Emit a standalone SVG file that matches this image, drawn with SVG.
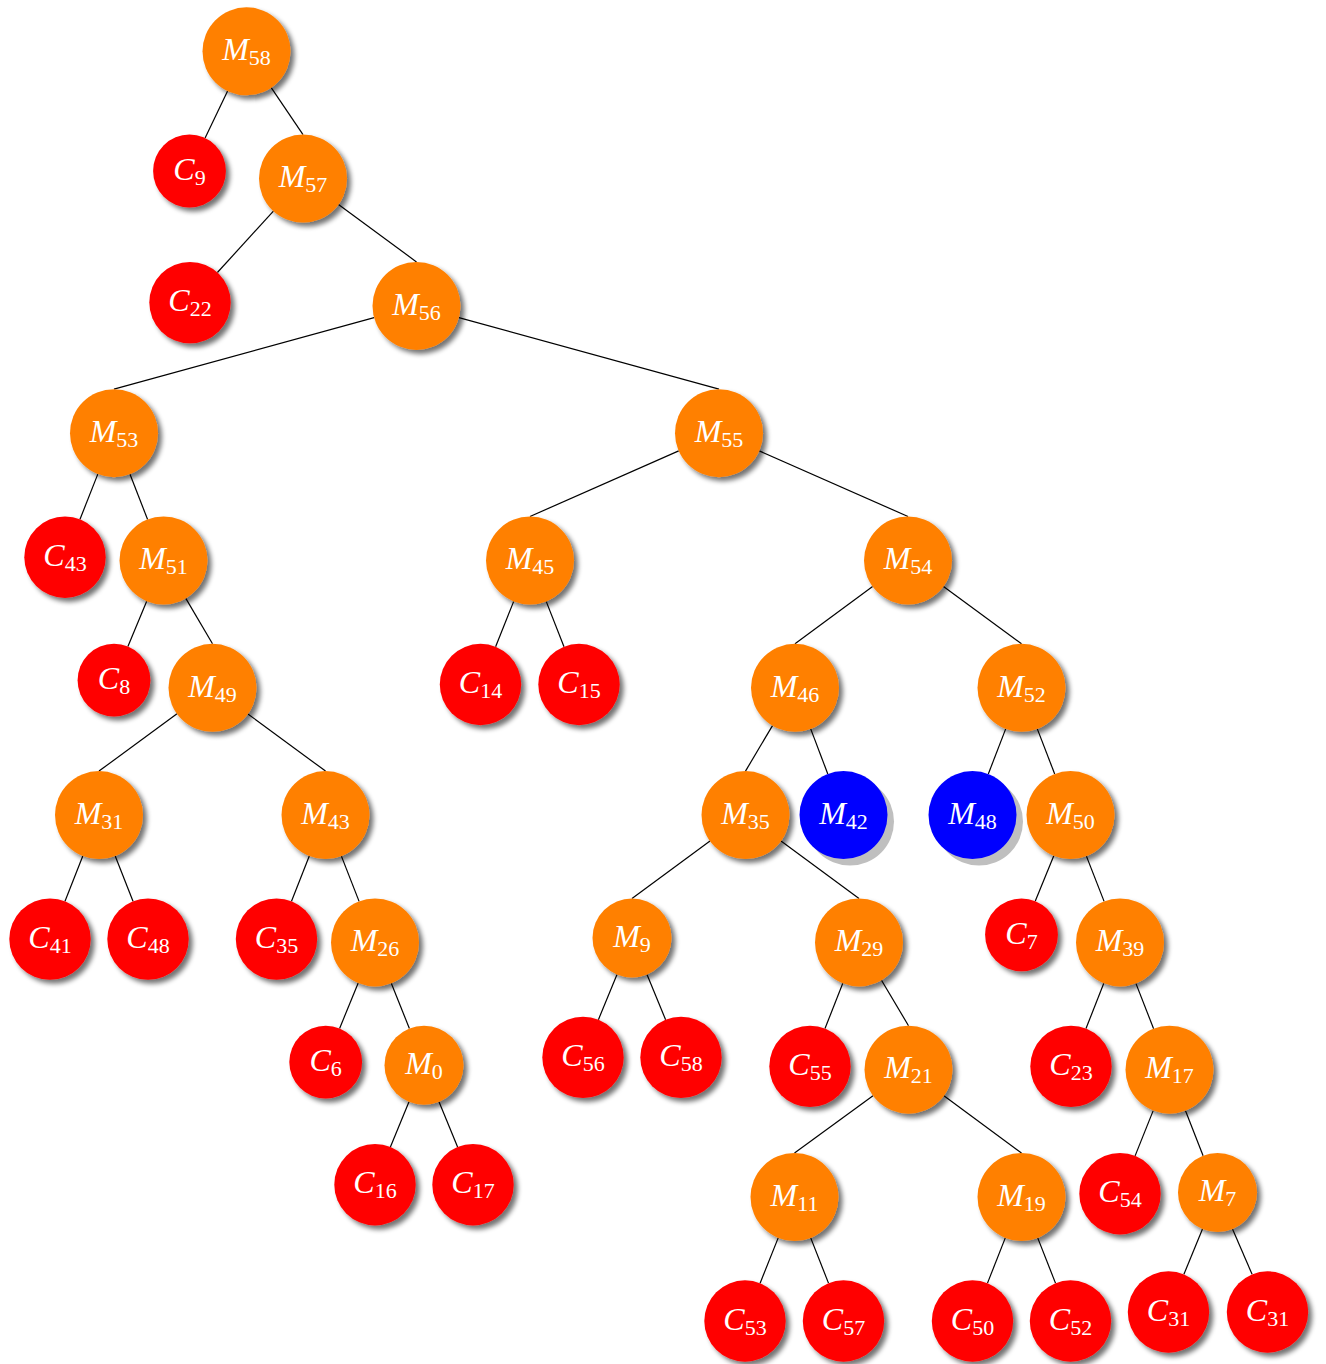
<svg xmlns="http://www.w3.org/2000/svg" width="1326" height="1364" viewBox="0 0 1326 1364">
  <defs>
    <filter id="soft" x="-30%" y="-30%" width="170%" height="170%">
      <feGaussianBlur in="SourceAlpha" stdDeviation="2.4"/>
      <feOffset dx="3.5" dy="3.5"/>
      <feComponentTransfer><feFuncA type="linear" slope="0.55"/></feComponentTransfer>
      <feMerge><feMergeNode/><feMergeNode in="SourceGraphic"/></feMerge>
    </filter>
  </defs>
  <style>
    .m circle { fill: #ff8000; filter: url(#soft); }
    .c circle { fill: #ff0000; filter: url(#soft); }
    .b circle.face { fill: #0000ff; }
    .b circle.shade { fill: #bfbfbf; }
    text { font-family: "Liberation Serif", "DejaVu Serif", serif; fill: #ffffff; text-anchor: middle; }
    .v { font-size: 32px; font-style: italic; }
    .s { font-size: 22px; font-style: normal; }
    #edges line { stroke: #000000; stroke-width: 1.2; }
  </style>
  <rect width="1326" height="1364" fill="#ffffff"/>

  <g id="edges">
    <!-- edges ending at the child's north point -->
    <line x1="271.2" y1="87.7" x2="303" y2="134.6"/>
    <line x1="338.5" y1="204.6" x2="416.5" y2="261.9"/>
    <line x1="374.1" y1="317.6" x2="114" y2="389.2"/>
    <line x1="458.9" y1="317.6" x2="719" y2="389.2"/>
    <line x1="678.7" y1="450.9" x2="530" y2="516.5"/>
    <line x1="759.3" y1="450.9" x2="908" y2="516.5"/>
    <line x1="185.8" y1="598.4" x2="212.5" y2="643.8"/>
    <line x1="872.6" y1="586.6" x2="795" y2="643.8"/>
    <line x1="943.5" y1="586.5" x2="1021.5" y2="643.8"/>
    <line x1="177.0" y1="713.8" x2="99" y2="771.1"/>
    <line x1="247.9" y1="713.9" x2="325.5" y2="771.1"/>
    <line x1="772.5" y1="725.6" x2="745.5" y2="771.1"/>
    <line x1="710.0" y1="841.1" x2="632" y2="898.4"/>
    <line x1="781.0" y1="841.1" x2="859" y2="898.4"/>
    <line x1="881.5" y1="980.2" x2="908.5" y2="1025.7"/>
    <line x1="873.0" y1="1095.7" x2="794.5" y2="1153"/>
    <line x1="943.9" y1="1095.8" x2="1021.5" y2="1153"/>
    <!-- edges aimed at the child's centre, cut at both borders -->
    <line x1="227.6" y1="91.0" x2="205.1" y2="138.1"/>
    <line x1="273.4" y1="211.1" x2="217.4" y2="272.5"/>
    <line x1="97.8" y1="474.1" x2="80.0" y2="519.3"/>
    <line x1="130.0" y1="474.2" x2="147.6" y2="519.5"/>
    <line x1="146.7" y1="601.2" x2="127.9" y2="646.6"/>
    <line x1="513.7" y1="601.4" x2="495.6" y2="646.7"/>
    <line x1="546.2" y1="601.4" x2="564.0" y2="646.7"/>
    <line x1="810.7" y1="728.9" x2="827.8" y2="774.0"/>
    <line x1="1005.7" y1="728.9" x2="988.3" y2="774.0"/>
    <line x1="1037.3" y1="728.9" x2="1054.7" y2="774.0"/>
    <line x1="82.8" y1="856.0" x2="65.0" y2="901.2"/>
    <line x1="115.2" y1="856.0" x2="133.0" y2="901.2"/>
    <line x1="309.3" y1="856.0" x2="291.5" y2="901.2"/>
    <line x1="341.4" y1="856.1" x2="359.1" y2="901.4"/>
    <line x1="1053.8" y1="855.8" x2="1035.3" y2="901.1"/>
    <line x1="1086.4" y1="856.1" x2="1104.1" y2="901.4"/>
    <line x1="358.2" y1="983.1" x2="339.6" y2="1028.4"/>
    <line x1="391.3" y1="983.3" x2="409.4" y2="1028.5"/>
    <line x1="617.0" y1="974.4" x2="598.4" y2="1019.7"/>
    <line x1="647.0" y1="974.4" x2="665.6" y2="1019.7"/>
    <line x1="842.8" y1="983.3" x2="825.0" y2="1028.5"/>
    <line x1="1103.8" y1="983.3" x2="1086.0" y2="1028.5"/>
    <line x1="1135.9" y1="983.4" x2="1153.6" y2="1028.7"/>
    <line x1="409.0" y1="1101.7" x2="390.4" y2="1147.0"/>
    <line x1="439.0" y1="1101.7" x2="457.6" y2="1147.0"/>
    <line x1="1153.2" y1="1110.6" x2="1135.1" y2="1155.9"/>
    <line x1="1185.5" y1="1110.7" x2="1203.1" y2="1155.7"/>
    <line x1="778.2" y1="1237.9" x2="760.1" y2="1283.2"/>
    <line x1="810.7" y1="1237.9" x2="828.5" y2="1283.1"/>
    <line x1="1005.3" y1="1237.9" x2="987.5" y2="1283.1"/>
    <line x1="1037.7" y1="1237.9" x2="1055.5" y2="1283.1"/>
    <line x1="1202.5" y1="1229.0" x2="1183.9" y2="1274.3"/>
    <line x1="1232.5" y1="1229.0" x2="1252.1" y2="1274.3"/>
  </g>

  <!-- level 0-2 -->
  <g id="M58" class="m"><circle cx="246.5" cy="51.3" r="44"/><text x="246.5" y="60"><tspan class="v">M</tspan><tspan class="s" dy="5">58</tspan></text></g>
  <g id="C9" class="c"><circle cx="189.5" cy="171" r="36.4"/><text x="189.5" y="179.7"><tspan class="v">C</tspan><tspan class="s" dy="5">9</tspan></text></g>
  <g id="M57" class="m"><circle cx="303" cy="178.6" r="44"/><text x="303" y="187.3"><tspan class="v">M</tspan><tspan class="s" dy="5">57</tspan></text></g>
  <g id="C22" class="c"><circle cx="190" cy="302.6" r="40.7"/><text x="190" y="311.3"><tspan class="v">C</tspan><tspan class="s" dy="5">22</tspan></text></g>
  <g id="M56" class="m"><circle cx="416.5" cy="305.9" r="44"/><text x="416.5" y="314.6"><tspan class="v">M</tspan><tspan class="s" dy="5">56</tspan></text></g>

  <!-- level 3-4 -->
  <g id="M53" class="m"><circle cx="114" cy="433.2" r="44"/><text x="114" y="441.9"><tspan class="v">M</tspan><tspan class="s" dy="5">53</tspan></text></g>
  <g id="M55" class="m"><circle cx="719" cy="433.2" r="44"/><text x="719" y="441.9"><tspan class="v">M</tspan><tspan class="s" dy="5">55</tspan></text></g>
  <g id="C43" class="c"><circle cx="65" cy="557.2" r="40.7"/><text x="65" y="565.9"><tspan class="v">C</tspan><tspan class="s" dy="5">43</tspan></text></g>
  <g id="M51" class="m"><circle cx="163.5" cy="560.5" r="44"/><text x="163.5" y="569.2"><tspan class="v">M</tspan><tspan class="s" dy="5">51</tspan></text></g>
  <g id="M45" class="m"><circle cx="530" cy="560.5" r="44"/><text x="530" y="569.2"><tspan class="v">M</tspan><tspan class="s" dy="5">45</tspan></text></g>
  <g id="M54" class="m"><circle cx="908" cy="560.5" r="44"/><text x="908" y="569.2"><tspan class="v">M</tspan><tspan class="s" dy="5">54</tspan></text></g>

  <!-- level 5 -->
  <g id="C8" class="c"><circle cx="114" cy="680.2" r="36.4"/><text x="114" y="688.9"><tspan class="v">C</tspan><tspan class="s" dy="5">8</tspan></text></g>
  <g id="M49" class="m"><circle cx="212.5" cy="687.8" r="44"/><text x="212.5" y="696.5"><tspan class="v">M</tspan><tspan class="s" dy="5">49</tspan></text></g>
  <g id="C14" class="c"><circle cx="480.5" cy="684.5" r="40.7"/><text x="480.5" y="693.2"><tspan class="v">C</tspan><tspan class="s" dy="5">14</tspan></text></g>
  <g id="C15" class="c"><circle cx="579" cy="684.5" r="40.7"/><text x="579" y="693.2"><tspan class="v">C</tspan><tspan class="s" dy="5">15</tspan></text></g>
  <g id="M46" class="m"><circle cx="795" cy="687.8" r="44"/><text x="795" y="696.5"><tspan class="v">M</tspan><tspan class="s" dy="5">46</tspan></text></g>
  <g id="M52" class="m"><circle cx="1021.5" cy="687.8" r="44"/><text x="1021.5" y="696.5"><tspan class="v">M</tspan><tspan class="s" dy="5">52</tspan></text></g>

  <!-- level 6 -->
  <g id="M31" class="m"><circle cx="99" cy="815.1" r="44"/><text x="99" y="823.8"><tspan class="v">M</tspan><tspan class="s" dy="5">31</tspan></text></g>
  <g id="M43" class="m"><circle cx="325.5" cy="815.1" r="44"/><text x="325.5" y="823.8"><tspan class="v">M</tspan><tspan class="s" dy="5">43</tspan></text></g>
  <g id="M35" class="m"><circle cx="745.5" cy="815.1" r="44"/><text x="745.5" y="823.8"><tspan class="v">M</tspan><tspan class="s" dy="5">35</tspan></text></g>
  <g id="M42" class="b"><circle class="shade" cx="850" cy="821.6" r="44"/><circle class="face" cx="843.5" cy="815.1" r="44"/><text x="843.5" y="823.8"><tspan class="v">M</tspan><tspan class="s" dy="5">42</tspan></text></g>
  <g id="M48" class="b"><circle class="shade" cx="979" cy="821.6" r="44"/><circle class="face" cx="972.5" cy="815.1" r="44"/><text x="972.5" y="823.8"><tspan class="v">M</tspan><tspan class="s" dy="5">48</tspan></text></g>
  <g id="M50" class="m"><circle cx="1070.5" cy="815.1" r="44"/><text x="1070.5" y="823.8"><tspan class="v">M</tspan><tspan class="s" dy="5">50</tspan></text></g>

  <!-- level 7 -->
  <g id="C41" class="c"><circle cx="50" cy="939.1" r="40.7"/><text x="50" y="947.8"><tspan class="v">C</tspan><tspan class="s" dy="5">41</tspan></text></g>
  <g id="C48" class="c"><circle cx="148" cy="939.1" r="40.7"/><text x="148" y="947.8"><tspan class="v">C</tspan><tspan class="s" dy="5">48</tspan></text></g>
  <g id="C35" class="c"><circle cx="276.5" cy="939.1" r="40.7"/><text x="276.5" y="947.8"><tspan class="v">C</tspan><tspan class="s" dy="5">35</tspan></text></g>
  <g id="M26" class="m"><circle cx="375" cy="942.4" r="44"/><text x="375" y="951.1"><tspan class="v">M</tspan><tspan class="s" dy="5">26</tspan></text></g>
  <g id="M9" class="m"><circle cx="632" cy="937.9" r="39.5"/><text x="632" y="946.6"><tspan class="v">M</tspan><tspan class="s" dy="5">9</tspan></text></g>
  <g id="M29" class="m"><circle cx="859" cy="942.4" r="44"/><text x="859" y="951.1"><tspan class="v">M</tspan><tspan class="s" dy="5">29</tspan></text></g>
  <g id="C7" class="c"><circle cx="1021.5" cy="934.8" r="36.4"/><text x="1021.5" y="943.5"><tspan class="v">C</tspan><tspan class="s" dy="5">7</tspan></text></g>
  <g id="M39" class="m"><circle cx="1120" cy="942.4" r="44"/><text x="1120" y="951.1"><tspan class="v">M</tspan><tspan class="s" dy="5">39</tspan></text></g>

  <!-- level 8 -->
  <g id="C6" class="c"><circle cx="325.7" cy="1062.1" r="36.4"/><text x="325.7" y="1070.8"><tspan class="v">C</tspan><tspan class="s" dy="5">6</tspan></text></g>
  <g id="M0" class="m"><circle cx="424" cy="1065.2" r="39.5"/><text x="424" y="1073.9"><tspan class="v">M</tspan><tspan class="s" dy="5">0</tspan></text></g>
  <g id="C56" class="c"><circle cx="583" cy="1057.4" r="40.7"/><text x="583" y="1066.1"><tspan class="v">C</tspan><tspan class="s" dy="5">56</tspan></text></g>
  <g id="C58" class="c"><circle cx="681" cy="1057.4" r="40.7"/><text x="681" y="1066.1"><tspan class="v">C</tspan><tspan class="s" dy="5">58</tspan></text></g>
  <g id="C55" class="c"><circle cx="810" cy="1066.4" r="40.7"/><text x="810" y="1075.1"><tspan class="v">C</tspan><tspan class="s" dy="5">55</tspan></text></g>
  <g id="M21" class="m"><circle cx="908.5" cy="1069.7" r="44"/><text x="908.5" y="1078.4"><tspan class="v">M</tspan><tspan class="s" dy="5">21</tspan></text></g>
  <g id="C23" class="c"><circle cx="1071" cy="1066.4" r="40.7"/><text x="1071" y="1075.1"><tspan class="v">C</tspan><tspan class="s" dy="5">23</tspan></text></g>
  <g id="M17" class="m"><circle cx="1169.5" cy="1069.7" r="44"/><text x="1169.5" y="1078.4"><tspan class="v">M</tspan><tspan class="s" dy="5">17</tspan></text></g>

  <!-- level 9 -->
  <g id="C16" class="c"><circle cx="375" cy="1184.7" r="40.7"/><text x="375" y="1193.4"><tspan class="v">C</tspan><tspan class="s" dy="5">16</tspan></text></g>
  <g id="C17" class="c"><circle cx="473" cy="1184.7" r="40.7"/><text x="473" y="1193.4"><tspan class="v">C</tspan><tspan class="s" dy="5">17</tspan></text></g>
  <g id="M11" class="m"><circle cx="794.5" cy="1197" r="44"/><text x="794.5" y="1205.7"><tspan class="v">M</tspan><tspan class="s" dy="5">11</tspan></text></g>
  <g id="M19" class="m"><circle cx="1021.5" cy="1197" r="44"/><text x="1021.5" y="1205.7"><tspan class="v">M</tspan><tspan class="s" dy="5">19</tspan></text></g>
  <g id="C54" class="c"><circle cx="1120" cy="1193.7" r="40.7"/><text x="1120" y="1202.4"><tspan class="v">C</tspan><tspan class="s" dy="5">54</tspan></text></g>
  <g id="M7" class="m"><circle cx="1217.5" cy="1192.5" r="39.5"/><text x="1217.5" y="1201.2"><tspan class="v">M</tspan><tspan class="s" dy="5">7</tspan></text></g>

  <!-- level 10 -->
  <g id="C53" class="c"><circle cx="745" cy="1321" r="40.7"/><text x="745" y="1329.7"><tspan class="v">C</tspan><tspan class="s" dy="5">53</tspan></text></g>
  <g id="C57" class="c"><circle cx="843.5" cy="1321" r="40.7"/><text x="843.5" y="1329.7"><tspan class="v">C</tspan><tspan class="s" dy="5">57</tspan></text></g>
  <g id="C50" class="c"><circle cx="972.5" cy="1321" r="40.7"/><text x="972.5" y="1329.7"><tspan class="v">C</tspan><tspan class="s" dy="5">50</tspan></text></g>
  <g id="C52" class="c"><circle cx="1070.5" cy="1321" r="40.7"/><text x="1070.5" y="1329.7"><tspan class="v">C</tspan><tspan class="s" dy="5">52</tspan></text></g>
  <g id="C31a" class="c"><circle cx="1168.5" cy="1312" r="40.7"/><text x="1168.5" y="1320.7"><tspan class="v">C</tspan><tspan class="s" dy="5">31</tspan></text></g>
  <g id="C31b" class="c"><circle cx="1267.5" cy="1312" r="40.7"/><text x="1267.5" y="1320.7"><tspan class="v">C</tspan><tspan class="s" dy="5">31</tspan></text></g>
</svg>
